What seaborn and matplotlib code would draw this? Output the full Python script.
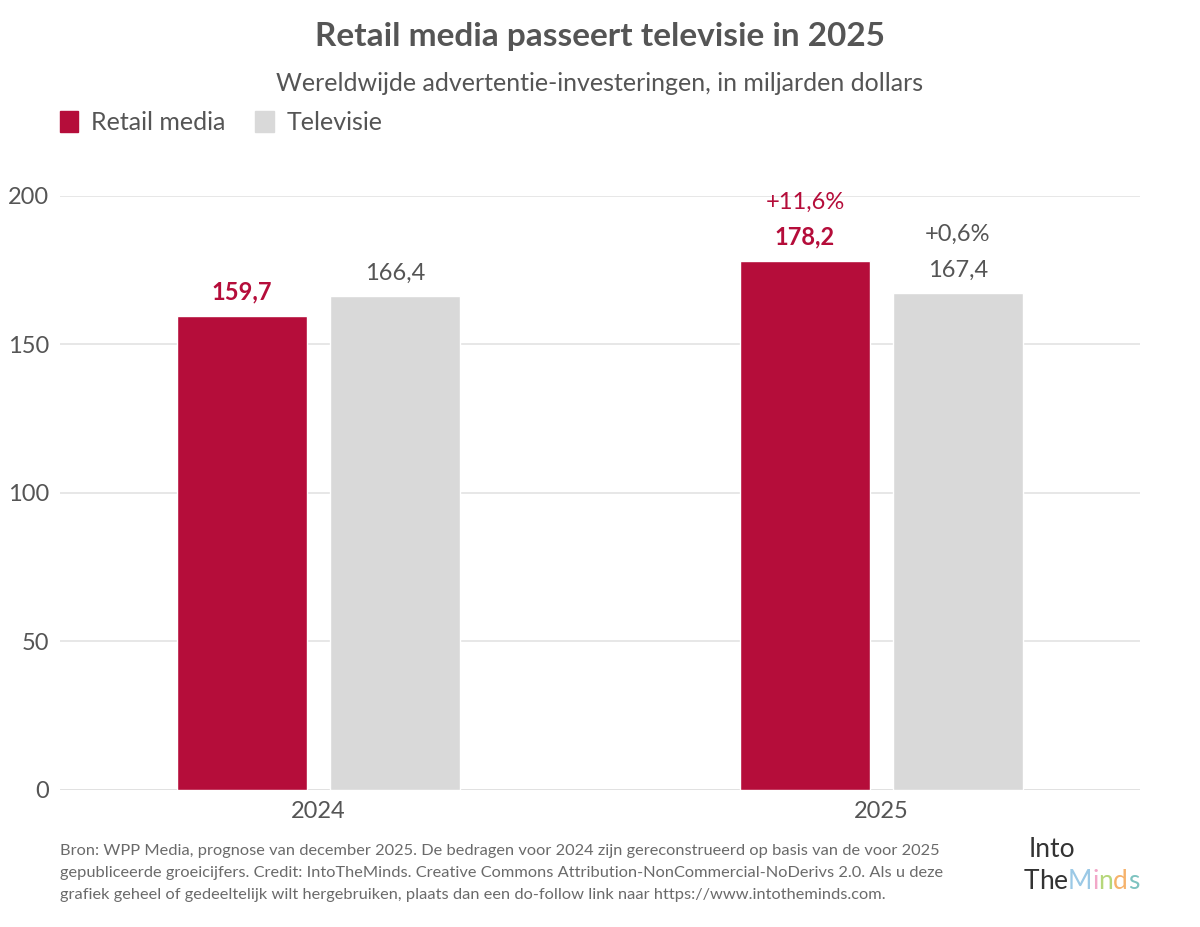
import pandas as pd
import matplotlib.pyplot as plt
import seaborn as sns
from matplotlib.patches import Patch

# Data
years = ['2024', '2025']
retail_media = [159.7, 178.2]
televisie = [166.4, 167.4]
retail_growth = [None, '+11,6%']
tv_growth = [None, '+0,6%']

RED = '#B50D3A'
GREY = '#D9D9D9'
TXT = '#555555'

df = pd.DataFrame({
    'Jaar': years * 2,
    'Kanaal': ['Retail media'] * 2 + ['Televisie'] * 2,
    'Waarde': retail_media + televisie,
})

sns.set_theme(style='white')
plt.rcParams['font.family'] = ['Lato', 'DejaVu Sans']

fig = plt.figure(figsize=(12, 9.27), dpi=100)
ax = fig.add_axes([0.05, 0.1478, 0.90, 0.6408])

sns.barplot(data=df, x='Jaar', y='Waarde', hue='Kanaal',
            palette=[RED, GREY], width=0.543, gap=0.15, saturation=1,
            legend=False, ax=ax)

ax.set_xlim(-0.459, 1.459)
ax.set_ylim(0, 200)
ax.set_yticks([0, 50, 100, 150, 200])
ax.yaxis.grid(True, color='#E3E3E3', linewidth=1.2)
ax.set_axisbelow(True)
ax.axhline(0, color='#D0D0D0', linewidth=1.8, zorder=0.5)
for s in ax.spines.values():
    s.set_visible(False)
ax.tick_params(axis='both', length=0, labelsize=17, labelcolor=TXT)
ax.tick_params(axis='y', pad=8)
ax.tick_params(axis='x', pad=8)
ax.set_xlabel('')
ax.set_ylabel('')

# Value labels
bars = ax.patches
for i, b in enumerate(bars[:2]):
    x = b.get_x() + b.get_width() / 2
    ax.text(x, b.get_height() + 4, f'{retail_media[i]:.1f}'.replace('.', ','),
            ha='center', va='bottom', fontsize=17, fontweight='bold', color=RED, clip_on=False)
    if retail_growth[i]:
        ax.text(x, b.get_height() + 16, retail_growth[i], ha='center', va='bottom',
                fontsize=17, color=RED, clip_on=False)
for i, b in enumerate(bars[2:4]):
    x = b.get_x() + b.get_width() / 2
    ax.text(x, b.get_height() + 4, f'{televisie[i]:.1f}'.replace('.', ','),
            ha='center', va='bottom', fontsize=17, color=TXT, clip_on=False)
    if tv_growth[i]:
        ax.text(x, b.get_height() + 16, tv_growth[i], ha='center', va='bottom',
                fontsize=17, color=TXT, clip_on=False)

# Titles
fig.text(0.5, 0.961, 'Retail media passeert televisie in 2025', ha='center', va='center',
         fontsize=24, fontweight='bold', color=TXT)
fig.text(0.5, 0.910, 'Wereldwijde advertentie-investeringen, in miljarden dollars',
         ha='center', va='center', fontsize=18, color=TXT)

# Legend
handles = [Patch(color=RED, label='Retail media'), Patch(color=GREY, label='Televisie')]
fig.legend(handles=handles, loc='center left', bbox_to_anchor=(0.031, 0.868), ncol=2,
           frameon=False, fontsize=18, handlelength=0.75, handleheight=0.95,
           handletextpad=0.5, columnspacing=1.2, labelcolor=TXT)

# Footer
footer = ('Bron: WPP Media, prognose van december 2025. De bedragen voor 2024 zijn gereconstrueerd op basis van de voor 2025\n'
          'gepubliceerde groeicijfers. Credit: IntoTheMinds. Creative Commons Attribution-NonCommercial-NoDerivs 2.0. Als u deze\n'
          'grafiek geheel of gedeeltelijk wilt hergebruiken, plaats dan een do-follow link naar https://www.intotheminds.com.')
fig.text(0.05, 0.027, footer, ha='left', va='bottom', fontsize=11.8, color='#6A6A6A',
         linespacing=1.72)

# Logo (tekst)
fig.text(0.857, 0.070, 'Into', ha='left', va='bottom', fontsize=19, color='#333333')
logo_x = 0.853
for ch, col in zip('TheMinds', ['#333333', '#333333', '#333333', '#9BC9E6', '#F2A7C8',
                                '#B6D77A', '#F6B26B', '#7DC3C0']):
    t = fig.text(logo_x, 0.036, ch, ha='left', va='bottom', fontsize=19, color=col)
    fig.canvas.draw()
    bb = t.get_window_extent()
    logo_x += bb.width / fig.bbox.width

fig.savefig('out.png', dpi=100)
